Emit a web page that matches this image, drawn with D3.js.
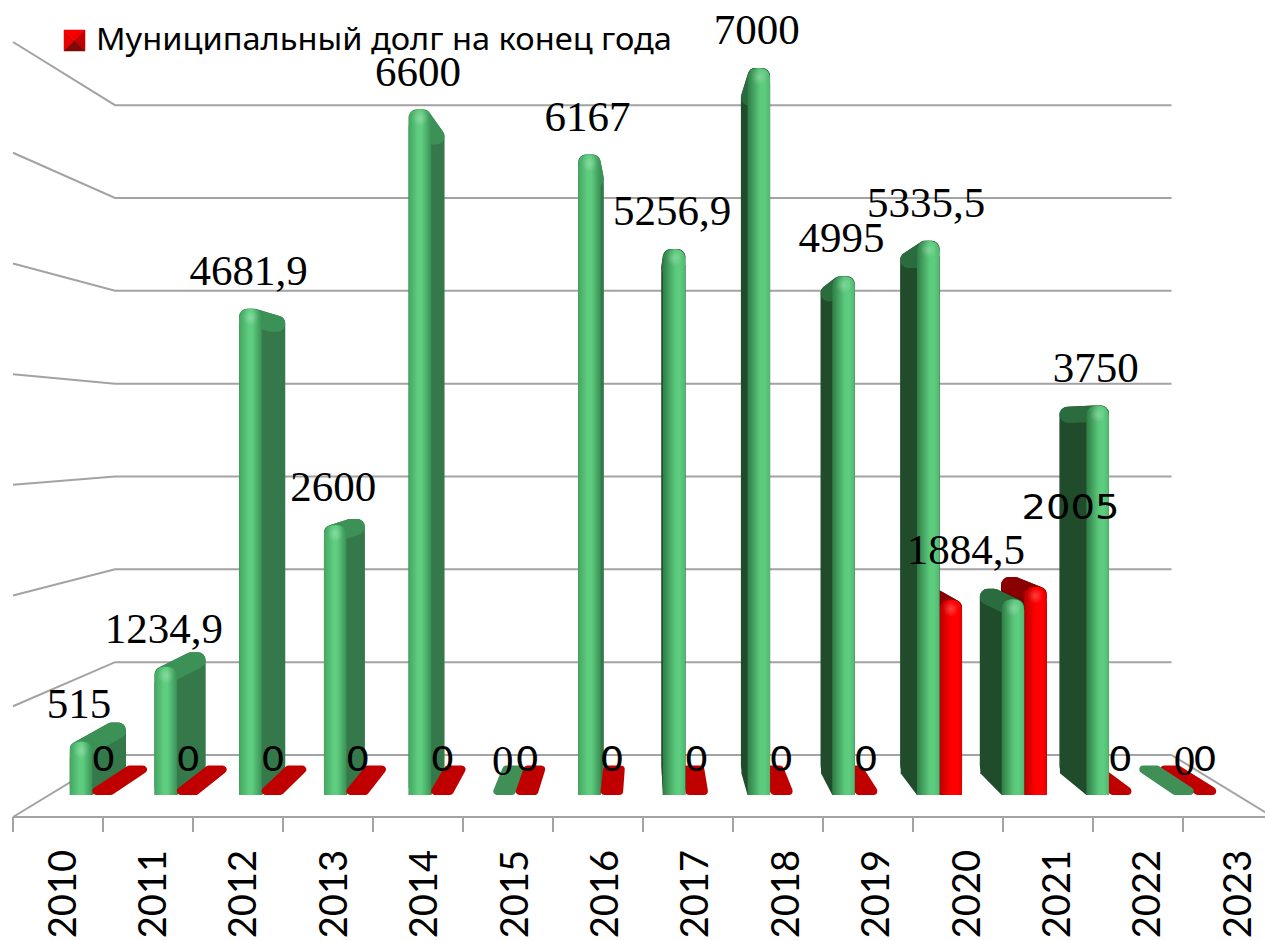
<!DOCTYPE html>
<html>
<head>
<meta charset="utf-8">
<script src="https://cdn.jsdelivr.net/npm/d3@7"></script>
<style>
    html, body { margin: 0; padding: 0; background: #fff; }
    svg { display: block; }
</style>
</head>
<body>
<svg id="chart" width="1265" height="941"></svg>
<script>
const years = ["2010", "2011", "2012", "2013", "2014", "2015", "2016", "2017", "2018", "2019", "2020", "2021", "2022", "2023"];
const greenValues = [515, 1234.9, 4681.9, 2600, 6600, 0, 6167, 5256.9, 7000, 4995, 5335.5, 1884.5, 3750, 0];
const redValues = [0, 0, 0, 0, 0, 0, 0, 0, 0, 0, 1880, 2005, 0, 0];
const seriesNames = ["green", "red"];
const gridTicks = [0, 1000, 2000, 3000, 4000, 5000, 6000, 7000];
const legendText = "Муниципальный долг на конец года";

// labels the author dragged by hand in the original
const labelNudge = { "green2021": [-45, -11], "red2021": [35, -44], "green2015": [0, 4], "green2023": [4, 4] };
const hiddenLabels = ["red2020"];

const width = 1265;
const height = 941;

// perspective: everything shrinks towards this vanishing point
const vanish = [645, 433];
const wallDepth = 0.8385;  // back wall relative to the front floor edge
const barDepth = 0.94;     // back of a bar relative to its front

const svg = d3.select("#chart");
const defs = svg.append("defs");

function hGradient(id, stops) {
    const g = defs.append("linearGradient").attr("id", id);
    stops.forEach(([offset, color]) => {
        g.append("stop").attr("offset", offset).attr("stop-color", color);
    });
}
hGradient("front-green-L", [["0%", "#44a660"], ["42%", "#5fcd80"], ["58%", "#5fcd80"], ["100%", "#3a9155"]]);
hGradient("front-green-R", [["0%", "#2f7d46"], ["55%", "#5ac97b"], ["75%", "#5fcd80"], ["100%", "#4fb870"]]);
hGradient("front-red-L", [["0%", "#c80000"], ["50%", "#ff0000"], ["100%", "#c80000"]]);
hGradient("front-red-R", [["0%", "#b80000"], ["50%", "#ff0000"], ["80%", "#ff0000"], ["100%", "#e40000"]]);

const shine = defs.append("radialGradient").attr("id", "shine");
shine.append("stop").attr("offset", "0%").attr("stop-color", "#fff").attr("stop-opacity", 0.25);
shine.append("stop").attr("offset", "100%").attr("stop-color", "#fff").attr("stop-opacity", 0);

// scales
const yWall = d3.scaleLinear().domain([0, 7000]).range([817, 42]);
const xFloor = d3.scaleBand().domain(years).range([13, 1273]);
const xLabel = d3.scalePoint().domain(years).range([62, 1237]);
const xBar = d3.scaleBand().domain(years).range([50, 1236]);
const xSeries = d3.scaleBand().domain(seriesNames).range([0, xBar.step()]).paddingOuter(0.88);
const yBar = d3.scaleLinear().domain([0, 7000]).range([795, 68]);

const shrink = (x, y, k) => [vanish[0] + (x - vanish[0]) * k, vanish[1] + (y - vanish[1]) * k];

// grid on the back and left walls
const gridG = svg.append("g").attr("fill", "none").attr("stroke", "#a3a3a3").attr("stroke-width", 2);
gridTicks.forEach(t => {
    const back = shrink(13, yWall(t), wallDepth);
    const backRight = shrink(1273, yWall(t), wallDepth);
    gridG.append("path").attr("d", d3.line()([[13, yWall(t)], back, backRight]));
});
// right edge of the floor and the front edge with its ticks
gridG.append("path").attr("d", d3.line()([shrink(1273, yWall(0), wallDepth), [1273, yWall(0)]]));
gridG.append("path").attr("d", d3.line()([[13, yWall(0)], [width, yWall(0)]]));
years.forEach(y => {
    gridG.append("path").attr("d", d3.line()([[xFloor(y), 817], [xFloor(y), 832]]));
});

// bars
const bars = [];
years.forEach((year, i) => {
    const greenBar = { year, series: "green", value: greenValues[i] };
    const redBar = { year, series: "red", value: redValues[i] };
    const center = xBar(year) + xBar.step() / 2;
    // the bar nearer the middle of the picture hides the side of the other one
    if (center < vanish[0]) bars.push(greenBar, redBar);
    else bars.push(redBar, greenBar);
});

const barColors = {
    green: { sideL: "#35794a", sideR: "#214c2c", topL: "#3b9156", topR: "#2b6c3e", flat: "#3f8f57" },
    red: { sideL: "#7a0000", sideR: "#7a0000", topL: "#c00000", topR: "#8a0000", flat: "#c00000" },
};

const hullPath = pts => "M" + d3.polygonHull(pts).join("L") + "Z";

const barG = svg.append("g");
bars.forEach(b => {
    const x0 = xBar(b.year) + xSeries(b.series);
    const x1 = x0 + xSeries.bandwidth();
    const top = yBar(b.value);
    const bottom = yBar(0);
    const flat = bottom - top < 2;
    const r = flat ? 4 : 8;
    const side = (x0 + x1) / 2 < vanish[0] ? "L" : "R";
    const colors = barColors[b.series];

    const ix0 = x0 + r, ix1 = x1 - r;
    const itop = flat ? bottom - r : top + r;
    const ibot = bottom - r;

    const corners = (a, c, y) => [[a, y], [c, y], shrink(a, y, barDepth), shrink(c, y, barDepth)];

    if (flat) {
        barG.append("path")
            .attr("d", hullPath(corners(ix0, ix1, ibot)))
            .attr("fill", colors.flat)
            .attr("stroke", colors.flat)
            .attr("stroke-width", 2 * r)
            .attr("stroke-linejoin", "round");
        return;
    }

    // rounded upper part, then a sharp lower part for the side wall
    barG.append("path")
        .attr("d", hullPath(corners(ix0, ix1, itop).concat(corners(ix0, ix1, ibot))))
        .attr("fill", colors["side" + side])
        .attr("stroke", colors["side" + side])
        .attr("stroke-width", 2 * r)
        .attr("stroke-linejoin", "round");
    barG.append("path")
        .attr("d", hullPath(corners(x0, x1, itop + r).concat(corners(x0, x1, bottom))))
        .attr("fill", colors["side" + side]);
    barG.append("path")
        .attr("d", hullPath(corners(ix0, ix1, itop)))
        .attr("fill", colors["top" + side])
        .attr("stroke", colors["top" + side])
        .attr("stroke-width", 2 * r)
        .attr("stroke-linejoin", "round");

    const rx = (x1 - x0) / 2;
    barG.append("path")
        .attr("d", `M${x0},${bottom}V${top + rx}Q${x0},${top} ${x0 + rx},${top}Q${x1},${top} ${x1},${top + rx}V${bottom}Z`)
        .attr("fill", `url(#front-${b.series}-${side})`);
    barG.append("ellipse")
        .attr("cx", (x0 + x1) / 2)
        .attr("cy", top + 9)
        .attr("rx", 8)
        .attr("ry", 8)
        .attr("fill", "url(#shine)");
});

// data labels
const labelG = svg.append("g").attr("fill", "#000");
bars.filter(b => !hiddenLabels.includes(b.series + b.year)).forEach(b => {
    const nudge = labelNudge[b.series + b.year] || [0, 0];
    const cx = xBar(b.year) + xSeries(b.series) + xSeries.bandwidth() / 2;
    const text = String(b.value).replace(".", ",");
    const label = labelG.append("text")
        .attr("x", cx + nudge[0] + (b.series === "green" ? -2 : 0))
        .attr("y", yBar(b.value) - 24 + nudge[1])
        .attr("text-anchor", "middle")
        .text(text);
    if (b.series === "green") {
        label.attr("font-family", "'Liberation Serif'").attr("font-size", 43);
    } else {
        label.attr("font-family", "'DejaVu Sans'").attr("font-size", 34)
            .attr("textLength", text.length * 24.5)
            .attr("lengthAdjust", "spacingAndGlyphs");
    }
});

// category labels
svg.append("g").selectAll("text")
    .data(years)
    .join("text")
    .attr("transform", d => `translate(${xLabel(d)},850) rotate(-90)`)
    .attr("dy", "0.36em")
    .attr("text-anchor", "end")
    .attr("font-family", "Lato, 'Open Sans', sans-serif")
    .attr("font-size", 38)
    .attr("fill", "#000")
    .text(d => d);

// legend
const legendG = svg.append("g").attr("transform", "translate(64,30)");
const box = 21;
const mid = [box / 2, box / 2];
[
    [[0, 0], [box, 0], "#f40000"],
    [[0, box], [0, 0], "#ea0000"],
    [[box, 0], [box, box], "#c20000"],
    [[box, box], [0, box], "#800808"],
].forEach(([a, b, fill]) => {
    legendG.append("path").attr("d", d3.line()([a, b, mid]) + "Z")
        .attr("fill", fill)
        .attr("stroke", fill)
        .attr("stroke-width", 0.5);
});
svg.append("text")
    .attr("x", 96)
    .attr("y", 50)
    .attr("font-family", "'Noto Sans', 'Open Sans', sans-serif")
    .attr("font-size", 31)
    .attr("textLength", 576)
    .attr("lengthAdjust", "spacingAndGlyphs")
    .attr("fill", "#000")
    .text(legendText);
</script>
</body>
</html>
